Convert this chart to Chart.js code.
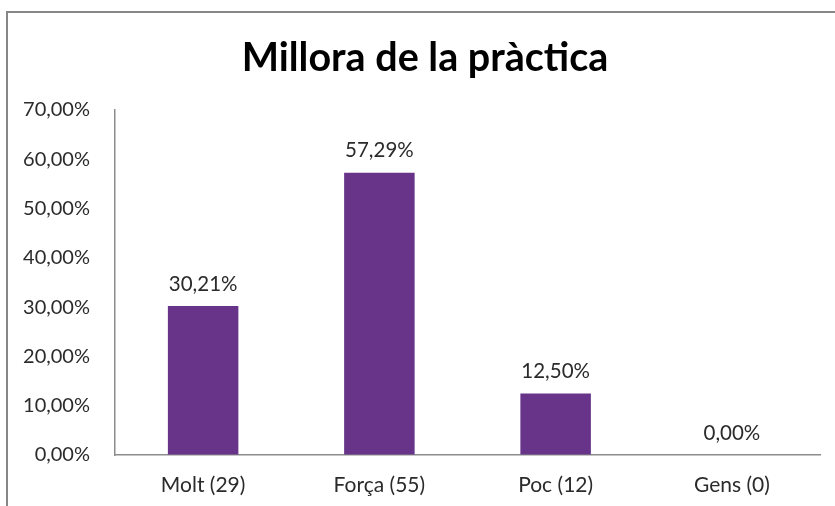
<!DOCTYPE html>
<html>
<head>
<meta charset="utf-8">
<script src="https://cdn.jsdelivr.net/npm/chart.js@4"></script>
<style>
html,body{margin:0;padding:0;background:#fff;overflow:hidden;}
canvas{display:block;}
</style>
</head>
<body>
<canvas id="c" width="835" height="506"></canvas>
<script>
const titleText = 'Millora de la pràctica';
const categories = ['Molt (29)', 'Força (55)', 'Poc (12)', 'Gens (0)'];
const values = [30.21, 57.29, 12.50, 0.00];
const yMin = 0, yMax = 70, yStep = 10;

const FONT = 'Lato, "Open Sans", sans-serif';
const fmt = v => v.toFixed(2).replace('.', ',') + '%';

const frame = {
  id: 'frame',
  beforeDraw(chart) {
    const ctx = chart.ctx;
    ctx.save();
    ctx.strokeStyle = '#878787';
    ctx.lineWidth = 2;
    ctx.beginPath();
    ctx.moveTo(7, 510);
    ctx.lineTo(7, 12);
    ctx.lineTo(840, 12);
    ctx.stroke();
    // title (the original chart is wider than the visible crop, so it is centred off-centre)
    ctx.fillStyle = '#000000';
    ctx.font = 'bold 39.5px ' + FONT;
    ctx.textAlign = 'center';
    ctx.textBaseline = 'middle';
    ctx.fillText(titleText, 425, 58);
    ctx.restore();
  }
};

const labels = {
  id: 'valueLabels',
  afterDatasetsDraw(chart) {
    const ctx = chart.ctx;
    const meta = chart.getDatasetMeta(0);
    ctx.save();
    ctx.fillStyle = '#2b2b2b';
    ctx.font = '20.5px ' + FONT;
    ctx.textAlign = 'center';
    ctx.textBaseline = 'middle';
    meta.data.forEach((bar, i) => {
      ctx.fillText(fmt(values[i]), bar.x, bar.y - 22);
    });
    ctx.restore();
  }
};

new Chart(document.getElementById('c'), {
  type: 'bar',
  data: {
    labels: categories,
    datasets: [{
      data: values,
      backgroundColor: '#673489',
      barPercentage: 0.4,
      categoryPercentage: 1.0
    }]
  },
  options: {
    responsive: false,
    animation: false,
    layout: { padding: { left: 0, right: 15, top: 110, bottom: 0 } },
    plugins: {
      legend: { display: false },
      tooltip: { enabled: false },
      title: { display: false }
    },
    scales: {
      x: {
        grid: { display: true, color: 'transparent', drawTicks: false },
        border: { display: true, color: '#8c8c8c', width: 1.5 },
        ticks: { color: '#2b2b2b', font: { family: FONT, size: 21 }, padding: 18 },
        afterFit(s) { s.height = 51; }
      },
      y: {
        min: yMin, max: yMax,
        grid: { display: true, color: 'transparent', drawTicks: false },
        border: { display: true, color: '#8c8c8c', width: 1.5 },
        ticks: {
          stepSize: yStep,
          color: '#2b2b2b',
          font: { family: FONT, size: 20 },
          padding: 25,
          callback: v => fmt(v)
        },
        afterFit(s) { s.width = 115; }
      }
    }
  },
  plugins: [frame, labels]
});
</script>
</body>
</html>
